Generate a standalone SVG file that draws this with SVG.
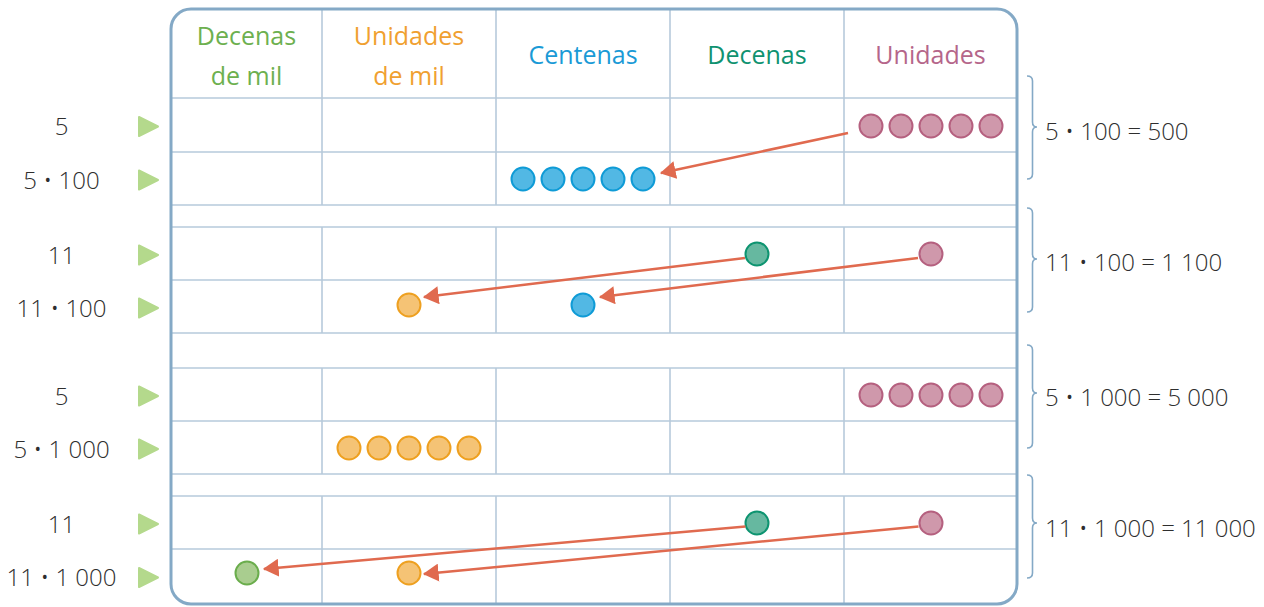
<svg xmlns="http://www.w3.org/2000/svg" width="1264" height="607" viewBox="0 0 1264 607">
<defs>
<style>
.grid{stroke:#b7cadb;stroke-width:1.6;fill:none}
.border{stroke:#84a9c6;stroke-width:3;fill:none}
.hdr{font-family:"Open Sans","Noto Sans",sans-serif;font-size:25px;text-anchor:middle}
.lbl{font-family:"Open Sans","Noto Sans",sans-serif;font-size:24px;font-weight:300;fill:#2e2e2e;text-anchor:middle}
.eq{font-family:"Open Sans","Noto Sans",sans-serif;font-size:24px;font-weight:300;fill:#2e2e2e}
.tri{fill:#b4d98c;stroke:#b4d98c;stroke-width:2;stroke-linejoin:round}
.brace{stroke:#84a9c6;stroke-width:1.6;fill:none}
.pink{fill:#cf98ab;stroke:#b5607f;stroke-width:2}
.blue{fill:#52b8e4;stroke:#0f9bd6;stroke-width:2}
.orange{fill:#f5c375;stroke:#eea020;stroke-width:2}
.teal{fill:#66b8a0;stroke:#0d9470;stroke-width:2}
.green{fill:#a9cd8f;stroke:#6aad4c;stroke-width:2}
.arrow{stroke:#e06a4f;stroke-width:2.5;fill:none;marker-end:url(#ah)}
</style>
<marker id="ah" markerUnits="userSpaceOnUse" markerWidth="16" markerHeight="18" viewBox="0 0 14 16" refX="13" refY="8" orient="auto">
<path d="M0,0 L14,8 L0,16 Z" fill="#e06a4f"/>
</marker>
</defs>
<rect width="1264" height="607" fill="#ffffff"/>
<g id="table">
<path class="grid" d="M322,9V98M496,9V98M670,9V98M844,9V98
M322,98V205M496,98V205M670,98V205M844,98V205
M322,227V333M496,227V333M670,227V333M844,227V333
M322,368V474M496,368V474M670,368V474M844,368V474
M322,496V604M496,496V604M670,496V604M844,496V604
M171,98H1017M171,152H1017M171,205H1017M171,227H1017M171,280H1017M171,333H1017M171,368H1017M171,421H1017M171,474H1017M171,496H1017M171,549H1017"/>
<rect class="border" x="171" y="9" width="846" height="595" rx="20" ry="20"/>
</g>
<g id="headers">
<text class="hdr" x="246.5" y="45" fill="#6db04f">Decenas</text>
<text class="hdr" x="246.5" y="85" fill="#6db04f">de mil</text>
<text class="hdr" x="409" y="45" fill="#f0a030">Unidades</text>
<text class="hdr" x="409" y="85" fill="#f0a030">de mil</text>
<text class="hdr" x="583" y="64" fill="#1a9ad6">Centenas</text>
<text class="hdr" x="757" y="64" fill="#0f9270">Decenas</text>
<text class="hdr" x="930.5" y="64" fill="#b5668a">Unidades</text>
</g>
<g id="row-labels">
<text class="lbl" x="61.5" y="135">5</text>
<text class="lbl" x="61.5" y="189">5 • 100</text>
<text class="lbl" x="61.5" y="264">11</text>
<text class="lbl" x="61.5" y="317">11 • 100</text>
<text class="lbl" x="61.5" y="405">5</text>
<text class="lbl" x="61.5" y="458">5 • 1 000</text>
<text class="lbl" x="61.5" y="533">11</text>
<text class="lbl" x="61.5" y="586">11 • 1 000</text>
</g>
<g id="row-markers">
<polygon class="tri" points="139,117 158,126.5 139,136"/>
<polygon class="tri" points="139,170.5 158,180 139,189.5"/>
<polygon class="tri" points="139,245.5 158,255 139,264.5"/>
<polygon class="tri" points="139,298.5 158,308 139,317.5"/>
<polygon class="tri" points="139,386.5 158,396 139,405.5"/>
<polygon class="tri" points="139,439.5 158,449 139,458.5"/>
<polygon class="tri" points="139,514.5 158,524 139,533.5"/>
<polygon class="tri" points="139,568 158,577.5 139,587"/>
</g>
<g id="chips-5x100">
<circle class="pink" cx="871" cy="126" r="11.5"/>
<circle class="pink" cx="901" cy="126" r="11.5"/>
<circle class="pink" cx="931" cy="126" r="11.5"/>
<circle class="pink" cx="961" cy="126" r="11.5"/>
<circle class="pink" cx="991" cy="126" r="11.5"/>
<circle class="blue" cx="523" cy="179" r="11.5"/>
<circle class="blue" cx="553" cy="179" r="11.5"/>
<circle class="blue" cx="583" cy="179" r="11.5"/>
<circle class="blue" cx="613" cy="179" r="11.5"/>
<circle class="blue" cx="643" cy="179" r="11.5"/>
</g>
<g id="chips-11x100">
<circle class="teal" cx="757" cy="254" r="11.5"/>
<circle class="pink" cx="931" cy="254" r="11.5"/>
<circle class="orange" cx="409" cy="305" r="11.5"/>
<circle class="blue" cx="583" cy="305" r="11.5"/>
</g>
<g id="chips-5x1000">
<circle class="pink" cx="871" cy="395" r="11.5"/>
<circle class="pink" cx="901" cy="395" r="11.5"/>
<circle class="pink" cx="931" cy="395" r="11.5"/>
<circle class="pink" cx="961" cy="395" r="11.5"/>
<circle class="pink" cx="991" cy="395" r="11.5"/>
<circle class="orange" cx="349" cy="448" r="11.5"/>
<circle class="orange" cx="379" cy="448" r="11.5"/>
<circle class="orange" cx="409" cy="448" r="11.5"/>
<circle class="orange" cx="439" cy="448" r="11.5"/>
<circle class="orange" cx="469" cy="448" r="11.5"/>
</g>
<g id="chips-11x1000">
<circle class="teal" cx="757" cy="523" r="11.5"/>
<circle class="pink" cx="931" cy="523" r="11.5"/>
<circle class="green" cx="247" cy="573" r="11.5"/>
<circle class="orange" cx="409" cy="573" r="11.5"/>
</g>
<g id="connectors">
<path class="arrow" d="M848,133 L661,173"/>
<path class="arrow" d="M745,258 L424,297"/>
<path class="arrow" d="M918,258 L600,297"/>
<path class="arrow" d="M745.5,526.5 L264,569"/>
<path class="arrow" d="M918.5,526.5 L424,574"/>
</g>
<g id="braces">
<path class="brace" d="M1027,76 Q1032.5,76 1032.5,81 L1032.5,122 Q1032.5,127 1037,127 Q1032.5,127 1032.5,132 L1032.5,174 Q1032.5,179 1027,179"/>
<path class="brace" d="M1027,208 Q1032.5,208 1032.5,213 L1032.5,254 Q1032.5,259 1037,259 Q1032.5,259 1032.5,264 L1032.5,307 Q1032.5,312 1027,312"/>
<path class="brace" d="M1027,345 Q1032.5,345 1032.5,350 L1032.5,388 Q1032.5,393 1037,393 Q1032.5,393 1032.5,398 L1032.5,443 Q1032.5,448 1027,448"/>
<path class="brace" d="M1027,475 Q1032.5,475 1032.5,480 L1032.5,518 Q1032.5,523 1037,523 Q1032.5,523 1032.5,528 L1032.5,573 Q1032.5,578 1027,578"/>
</g>
<g id="equations">
<text class="eq" x="1045" y="140">5 • 100 = 500</text>
<text class="eq" x="1045" y="271">11 • 100 = 1 100</text>
<text class="eq" x="1045" y="406">5 • 1 000 = 5 000</text>
<text class="eq" x="1045" y="537">11 • 1 000 = 11 000</text>
</g>
</svg>
